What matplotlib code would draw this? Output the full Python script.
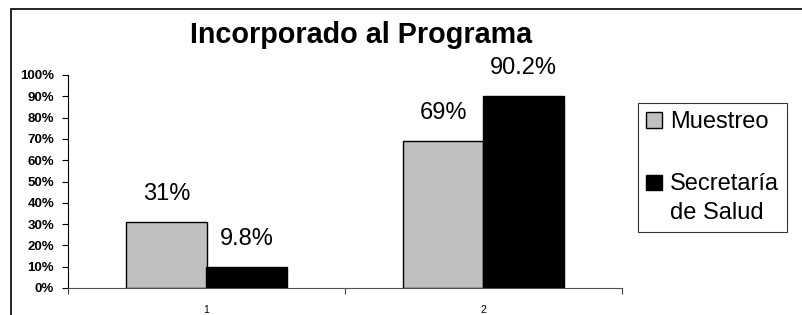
import numpy as np
import matplotlib
matplotlib.use("Agg")
import matplotlib.pyplot as plt
from matplotlib.patches import Rectangle
from matplotlib.legend_handler import HandlerPatch

plt.rcParams['font.family'] = ['Liberation Sans', 'DejaVu Sans']

# Data
categories = ["1", "2"]
series_names = ["Muestreo", "Secretaría\nde Salud"]
muestreo = [31, 69]
secretaria = [9.8, 90.2]
muestreo_labels = ["31%", "69%"]
secretaria_labels = ["9.8%", "90.2%"]
y_ticks = [0, 10, 20, 30, 40, 50, 60, 70, 80, 90, 100]
colors = ["#C0C0C0", "black"]

fig = plt.figure(figsize=(8.03, 3.15), dpi=100)
ax = fig.add_axes([68 / 803, 1 - 288 / 315, (622 - 68) / 803, (288 - 75) / 315])

# Frame around the whole chart area
top = 1 - 9 / 315
fig.patches.append(Rectangle((11 / 803, -0.2), 1.2, top + 0.2, transform=fig.transFigure,
                             fill=False, edgecolor="black", linewidth=1.2))

x = np.arange(1, len(categories) + 1)
w = 0.29
ax.bar(x - w / 2, muestreo, w, color=colors[0], edgecolor="black", linewidth=1)
ax.bar(x + w / 2, secretaria, w, color=colors[1], edgecolor="black", linewidth=1)

# Value labels
for xi, v, t in zip(x - w / 2, muestreo, muestreo_labels):
    ax.annotate(t, (xi, v), xytext=(0, 20), textcoords="offset points",
                ha="center", va="center", fontsize=17)
for xi, v, t in zip(x + w / 2, secretaria, secretaria_labels):
    ax.annotate(t, (xi, v), xytext=(0, 20), textcoords="offset points",
                ha="center", va="center", fontsize=17)

# Axes
ax.set_xlim(0.5, 2.5)
ax.set_ylim(0, 100)
ax.set_yticks(y_ticks)
ax.set_yticklabels([f"{v}%" for v in y_ticks], fontweight="bold", fontsize=9.5)
ax.tick_params(axis="y", direction="out", length=4, width=0.8, pad=6)
ax.set_xticks(x)
ax.set_xticklabels(categories, fontsize=7.5)
ax.tick_params(axis="x", which="major", length=0, pad=12)
ax.set_xticks([0.5, 1.5, 2.5], minor=True)
ax.tick_params(axis="x", which="minor", direction="out", length=4, width=0.8, color="#404040")

for s in ["top", "right"]:
    ax.spines[s].set_visible(False)
ax.spines["left"].set_color("black")
ax.spines["bottom"].set_color("#505050")

# Title
fig.text(361 / 803, 1 - 35 / 315, "Incorporado al Programa", ha="center", va="center",
         fontsize=20.7, fontweight="bold")


# legend square sits on the first line of a two-line label
class TopHandler(HandlerPatch):
    def create_artists(self, legend, orig_handle, xdescent, ydescent, width, height, fontsize, trans):
        arts = super().create_artists(legend, orig_handle, xdescent, ydescent, width, height, fontsize, trans)
        if "\n" in orig_handle.get_label():
            for a in arts:
                a.set_y(a.get_y() + 0.7 * fontsize)
        return arts


handles = [Rectangle((0, 0), 1, 1, facecolor=c, edgecolor="black", linewidth=1, label=n)
           for c, n in zip(colors, series_names)]
leg = fig.legend(handles=handles, loc="upper left", bbox_to_anchor=(638 / 803, 1 - 103 / 315),
                 fontsize=17, frameon=True, fancybox=False, edgecolor="black",
                 handlelength=0.65, handleheight=0.65, handletextpad=0.35,
                 labelspacing=1.7, borderpad=0.35, borderaxespad=0,
                 handler_map={Rectangle: TopHandler()})
leg.get_frame().set_linewidth(0.8)
for t in leg.get_texts():
    t.set_multialignment("left")
    t.set_linespacing(1.4)

plt.savefig("out.png", dpi=100)
plt.close()
